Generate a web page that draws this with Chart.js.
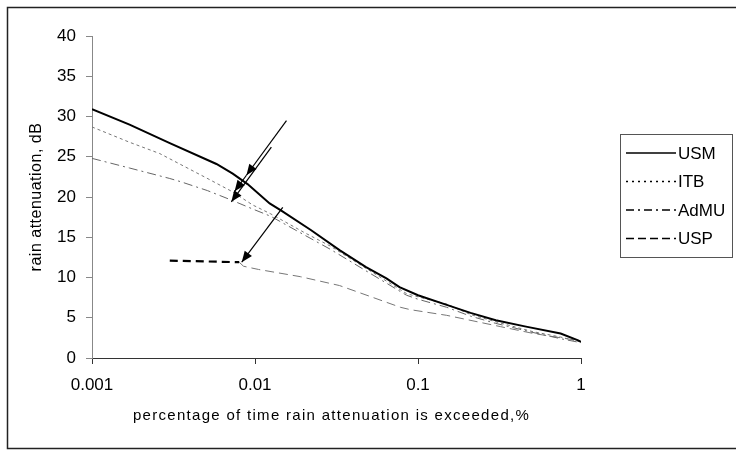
<!DOCTYPE html>
<html>
<head>
<meta charset="utf-8">
<script src="https://cdn.jsdelivr.net/npm/chart.js@4/dist/chart.umd.min.js"></script>
<style>
  html, body { margin: 0; padding: 0; background: #fff; }
</style>
</head>
<body>
<canvas id="attChart" width="736" height="450"></canvas>
<script>
// axis ticks
const xTicks = [0.001, 0.01, 0.1, 1];
const xTickLabels = ['0.001', '0.01', '0.1', '1'];
const xTitle = 'percentage of time rain attenuation is exceeded,%';
const yTitle = 'rain attenuation, dB';

// series (x = % of time, y = dB)
const usmX = [0.001, 0.0017, 0.003, 0.0058, 0.0073, 0.009, 0.0123, 0.0145, 0.022, 0.033, 0.048, 0.064, 0.077, 0.1, 0.15, 0.21, 0.3, 0.46, 0.75, 0.96, 1];
const usmY = [30.9, 29.0, 26.7, 24.1, 22.9, 21.6, 19.2, 18.3, 15.9, 13.4, 11.3, 9.9, 8.8, 7.8, 6.6, 5.6, 4.7, 3.9, 3.05, 2.2, 2.0];

const itbX = [0.001, 0.0017, 0.0026, 0.005, 0.0072, 0.0097, 0.0125, 0.02, 0.029, 0.053, 0.085, 0.1, 0.15, 0.21, 0.3, 0.5, 0.75, 1];
const itbY = [28.7, 26.8, 25.4, 22.4, 20.7, 19.0, 17.9, 15.6, 13.9, 10.6, 8.0, 7.6, 6.7, 5.4, 4.5, 3.3, 2.6, 2.0];

const admuX = [0.001, 0.0017, 0.003, 0.0035, 0.0051, 0.0072, 0.0097, 0.0125, 0.02, 0.029, 0.053, 0.085, 0.1, 0.15, 0.21, 0.3, 0.5, 0.75, 1];
const admuY = [24.8, 23.6, 22.3, 21.9, 20.8, 19.6, 18.5, 17.6, 15.3, 13.5, 10.3, 7.8, 7.3, 6.3, 5.2, 4.3, 3.2, 2.4, 1.9];

const uspX = [0.003, 0.008, 0.0085, 0.0105, 0.019, 0.033, 0.05, 0.078, 0.09, 0.15, 0.32, 0.51, 0.94, 1];
const uspY = [12.1, 11.9, 11.4, 11.0, 10.1, 9.0, 7.7, 6.3, 6.0, 5.3, 3.9, 3.05, 2.2, 2.0];

// annotation arrows, data units: [fromX, fromY, toX, toY]
const arrows = [
  [0.0156, 29.5, 0.00886, 22.7],
  [0.00886, 22.7, 0.0075, 20.7],
  [0.0126, 26.2, 0.00716, 19.4],
  [0.0148, 18.7, 0.00829, 11.9],
];

const FONT = "'Liberation Sans', Arial, sans-serif";
const pts = (xs, ys) => xs.map((x, i) => ({ x, y: ys[i] }));

// legend samples
const legendItems = [
  { label: 'USM', dash: [] },
  { label: 'ITB', dash: [2, 4] },
  { label: 'AdMU', dash: [8, 4, 2, 4] },
  { label: 'USP', dash: [8, 4] },
];

const framePlugin = {
  id: 'frame',
  beforeDraw(chart) {
    const c = chart.ctx;
    c.save();
    c.fillStyle = '#fff';
    c.fillRect(0, 0, chart.width, chart.height);
    c.restore();
  },
  afterDraw(chart) {
    const c = chart.ctx;
    const area = chart.chartArea;
    c.save();
    // outer border
    c.strokeStyle = '#222';
    c.lineWidth = 1.5;
    c.strokeRect(7.5, 7.5, 740, 441);

    // axis titles
    c.fillStyle = '#000';
    c.textAlign = 'center';
    c.textBaseline = 'middle';
    c.letterSpacing = '1.3px';
    c.font = '15px ' + FONT;
    c.fillText(xTitle, (area.left + area.right) / 2 - 5, 416);
    c.save();
    c.translate(37, (area.top + area.bottom) / 2);
    c.rotate(-Math.PI / 2);
    c.letterSpacing = '0.5px';
    c.font = '16px ' + FONT;
    c.fillText(yTitle, 0, 0);
    c.restore();
    c.letterSpacing = '0px';

    // legend
    c.strokeStyle = '#555';
    c.lineWidth = 1;
    c.strokeRect(620.5, 134.5, 112, 123);
    c.font = '17px ' + FONT;
    c.textAlign = 'left';
    legendItems.forEach((it, i) => {
      const y = 153 + i * 28.5;
      c.beginPath();
      c.setLineDash(it.dash);
      c.strokeStyle = '#000';
      c.lineWidth = 1.6;
      c.moveTo(626, y);
      c.lineTo(676, y);
      c.stroke();
      c.setLineDash([]);
      c.fillText(it.label, 678, y + 1);
    });
    c.restore();
  },
  afterDatasetsDraw(chart) {
    const { ctx: c, scales: { x, y } } = chart;
    c.save();
    c.strokeStyle = '#000';
    c.fillStyle = '#000';
    c.lineWidth = 1.2;
    arrows.forEach(a => {
      const x1 = x.getPixelForValue(a[0]), y1 = y.getPixelForValue(a[1]);
      const x2 = x.getPixelForValue(a[2]), y2 = y.getPixelForValue(a[3]);
      const ang = Math.atan2(y2 - y1, x2 - x1);
      c.beginPath();
      c.moveTo(x1, y1);
      c.lineTo(x2, y2);
      c.stroke();
      const L = 11, W = 4.5;
      c.beginPath();
      c.moveTo(x2, y2);
      c.lineTo(x2 - L * Math.cos(ang) + W * Math.sin(ang), y2 - L * Math.sin(ang) - W * Math.cos(ang));
      c.lineTo(x2 - L * Math.cos(ang) - W * Math.sin(ang), y2 - L * Math.sin(ang) + W * Math.cos(ang));
      c.closePath();
      c.fill();
    });
    c.restore();
  }
};

new Chart(document.getElementById('attChart'), {
  type: 'line',
  data: {
    datasets: [
      {
        label: 'USM',
        data: pts(usmX, usmY),
        borderColor: '#000',
        borderWidth: 2,
      },
      {
        label: 'ITB',
        data: pts(itbX, itbY),
        borderColor: '#777',
        borderWidth: 1,
        borderDash: [3, 3],
      },
      {
        label: 'AdMU',
        data: pts(admuX, admuY),
        borderColor: '#666',
        borderWidth: 1,
        borderDash: [9, 4, 2, 4],
      },
      {
        label: 'USP',
        data: pts(uspX, uspY),
        borderColor: '#777',
        borderWidth: 1,
        borderDash: [9, 5],
        segment: {
          borderColor: ctx => ctx.p1.parsed.x <= 0.008 ? '#000' : '#777',
          borderWidth: ctx => ctx.p1.parsed.x <= 0.008 ? 2.2 : 1,
          borderDash: ctx => ctx.p1.parsed.x <= 0.008 ? [8, 5] : [9, 5],
        },
      },
    ]
  },
  options: {
    responsive: false,
    animation: false,
    devicePixelRatio: 1,
    elements: {
      point: { radius: 0 },
      line: { tension: 0 },
    },
    layout: {
      padding: { left: 8, top: 36, right: 155, bottom: 0 },
    },
    plugins: {
      legend: { display: false },
      tooltip: { enabled: false },
    },
    scales: {
      x: {
        type: 'logarithmic',
        position: 'bottom',
        min: 0.001,
        max: 1,
        afterBuildTicks: s => { s.ticks = xTicks.map(v => ({ value: v })); },
        afterFit: s => { s.height = 92; },
        ticks: {
          autoSkip: false,
          maxRotation: 0,
          padding: 11,
          color: '#000',
          font: { family: FONT, size: 17 },
          callback: (v, i) => xTickLabels[i],
        },
        grid: {
          drawOnChartArea: false,
          drawTicks: true,
          tickLength: 6,
          color: '#333',
        },
        border: { display: true, color: '#333', width: 1 },
      },
      y: {
        min: 0,
        max: 40,
        afterFit: s => { s.width = 84; },
        ticks: {
          stepSize: 5,
          padding: 10,
          color: '#000',
          font: { family: FONT, size: 17 },
        },
        grid: {
          drawOnChartArea: false,
          drawTicks: true,
          tickLength: 6,
          color: '#888',
        },
        border: { display: true, color: '#888', width: 1 },
      }
    }
  },
  plugins: [framePlugin]
});
</script>
</body>
</html>
